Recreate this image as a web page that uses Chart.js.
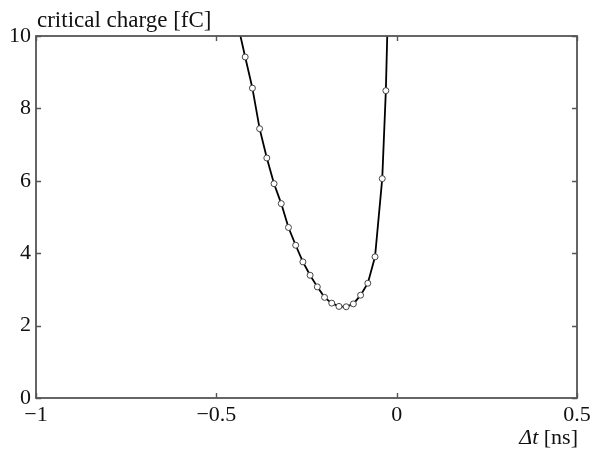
<!DOCTYPE html>
<html>
<head>
<meta charset="utf-8">
<script src="https://cdn.jsdelivr.net/npm/chart.js@4/dist/chart.umd.min.js"></script>
<style>
html,body{margin:0;padding:0;background:#fff;}
canvas{display:block;}
</style>
</head>
<body>
<canvas id="c" width="603" height="452"></canvas>
<script>
// Data
const dtValues = [-0.44, -0.42, -0.40, -0.38, -0.36, -0.34, -0.32, -0.30, -0.28, -0.26, -0.24,
                  -0.22, -0.20, -0.18, -0.16, -0.14, -0.12, -0.10, -0.08, -0.06, -0.04, -0.03, -0.025];
const chargeValues = [10.3, 9.42, 8.56, 7.44, 6.63, 5.92, 5.37, 4.71, 4.22, 3.76, 3.39,
                      3.07, 2.78, 2.62, 2.53, 2.52, 2.60, 2.84, 3.17, 3.90, 6.06, 8.49, 10.45];
const xTickValues = [-1, -0.5, 0, 0.5];
const yTickValues = [0, 2, 4, 6, 8, 10];
const yTitle = 'critical charge [fC]';
const xTitleItalic = 'Δt';
const xTitleRest = ' [ns]';

const points = dtValues.map((x, i) => ({x: x, y: chargeValues[i]}));
const FONT = '"Liberation Serif", "Times New Roman", serif';
const FRAME = '#555';

const fmt = v => (v < 0 ? '\u2212' : '') + String(Math.abs(v));

const framePlugin = {
  id: 'frame',
  afterDraw(chart) {
    const ctx = chart.ctx;
    const a = chart.chartArea;
    const xs = chart.scales.x, ys = chart.scales.y;
    ctx.save();
    ctx.strokeStyle = FRAME;
    ctx.lineWidth = 1.8;
    ctx.strokeRect(a.left, a.top, a.right - a.left, a.bottom - a.top);
    // inward ticks on all four sides
    ctx.lineWidth = 1.4;
    const L = 5;
    ctx.beginPath();
    xTickValues.forEach(v => {
      const px = Math.round(xs.getPixelForValue(v)) + 0.5;
      ctx.moveTo(px, a.bottom); ctx.lineTo(px, a.bottom - L);
      ctx.moveTo(px, a.top); ctx.lineTo(px, a.top + L);
    });
    yTickValues.forEach(v => {
      const py = Math.round(ys.getPixelForValue(v)) + 0.5;
      ctx.moveTo(a.left, py); ctx.lineTo(a.left + L, py);
      ctx.moveTo(a.right, py); ctx.lineTo(a.right - L, py);
    });
    ctx.stroke();
    // titles
    ctx.fillStyle = '#111';
    ctx.textBaseline = 'alphabetic';
    ctx.font = '23px ' + FONT;
    ctx.textAlign = 'left';
    ctx.fillText(yTitle, a.left + 1, 27);
    // x title, right aligned at frame right
    ctx.font = '22px ' + FONT;
    const wRest = ctx.measureText(xTitleRest).width;
    ctx.font = 'italic 22px ' + FONT;
    const wIt = ctx.measureText(xTitleItalic).width;
    const xEnd = a.right + 1;
    ctx.fillText(xTitleItalic, xEnd - wRest - wIt, 444);
    ctx.font = '22px ' + FONT;
    ctx.fillText(xTitleRest, xEnd - wRest, 444);
    ctx.restore();
  }
};

new Chart(document.getElementById('c'), {
  type: 'line',
  data: {
    datasets: [{
      data: points,
      borderColor: '#000',
      borderWidth: 1.8,
      backgroundColor: '#fff',
      pointBackgroundColor: '#fff',
      pointBorderColor: '#444',
      pointBorderWidth: 1,
      pointRadius: c => (c.raw && c.raw.y > 10 ? 0 : 3),
      tension: 0,
      clip: 0
    }]
  },
  options: {
    responsive: false,
    animation: false,
    events: [],
    layout: {padding: {top: 36, right: 26, left: 0, bottom: 0}},
    plugins: {legend: {display: false}, tooltip: {enabled: false}},
    scales: {
      x: {
        type: 'linear', min: -1, max: 0.5,
        afterBuildTicks: s => { s.ticks = xTickValues.map(v => ({value: v})); },
        afterFit: s => { s.height = 54; },
        ticks: {
          callback: v => fmt(v), color: '#111', padding: 4,
          font: {family: FONT, size: 22}, maxRotation: 0, autoSkip: false
        },
        grid: {display: false, drawTicks: false},
        border: {display: false}
      },
      y: {
        type: 'linear', min: 0, max: 10,
        afterBuildTicks: s => { s.ticks = yTickValues.map(v => ({value: v})); },
        afterFit: s => { s.width = 36; },
        ticks: {
          callback: v => fmt(v), color: '#111', padding: 5,
          font: {family: FONT, size: 22}, autoSkip: false
        },
        grid: {display: false, drawTicks: false},
        border: {display: false}
      }
    }
  },
  plugins: [framePlugin]
});
</script>
</body>
</html>
